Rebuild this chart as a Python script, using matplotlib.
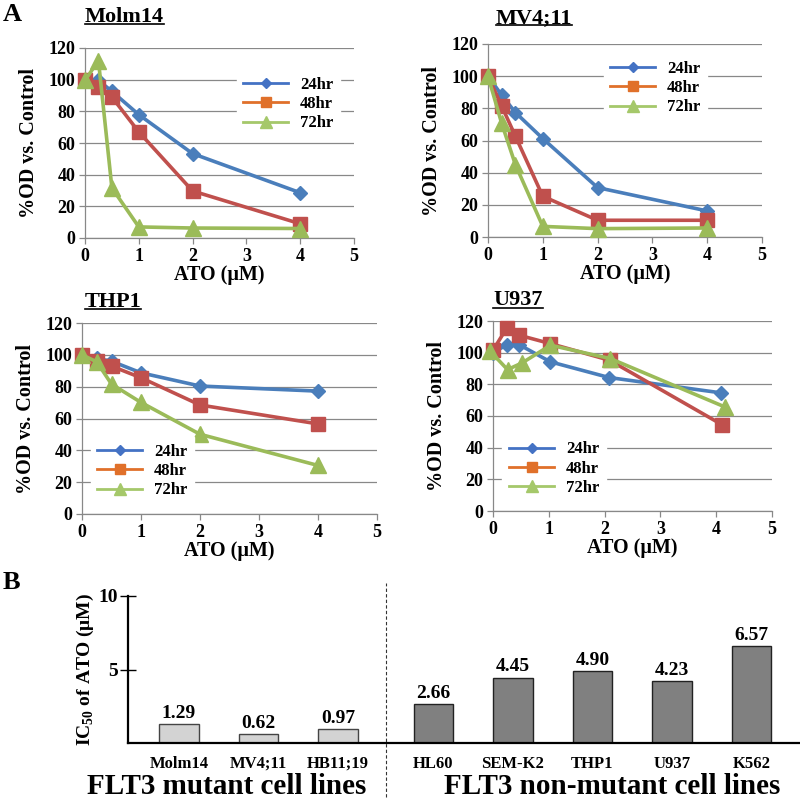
import numpy as np
import matplotlib
matplotlib.use("Agg")
import matplotlib.pyplot as plt
from matplotlib.lines import Line2D

plt.rcParams['font.family'] = ['Liberation Serif', 'DejaVu Serif']
plt.rcParams['font.weight'] = 'bold'
plt.rcParams['mathtext.fontset'] = 'custom'
plt.rcParams['mathtext.rm'] = 'Liberation Serif:bold'
plt.rcParams['mathtext.bf'] = 'Liberation Serif:bold'

# --- panel A data: dose (uM) vs %OD ---
dose = [0, 0.25, 0.5, 1, 2, 4]
labels_t = ['24hr', '48hr', '72hr']

molm14_24 = [100, 99.6, 92.6, 77.9, 53.3, 28.6]
molm14_48 = [100, 95.4, 89.0, 67.0, 29.7, 9.0]
molm14_72 = [99.6, 112, 31.6, 7.0, 6.3, 6.0]

mv411_24 = [100, 88.2, 77.4, 61.2, 30.7, 16.2]
mv411_48 = [100, 81.4, 62.7, 25.3, 10.4, 10.4]
mv411_72 = [100, 70.6, 45.0, 6.6, 5.2, 5.6]

thp1_24 = [100, 97.7, 96.0, 88.7, 80.4, 77.2]
thp1_48 = [100, 96.0, 92.9, 85.6, 68.5, 56.6]
thp1_72 = [100, 95.6, 81.6, 70.1, 50.1, 30.5]

# U937 points sit slightly off the nominal doses in the original
u937_x24 = [0, 0.25, 0.47, 1.03, 2.08, 4.09]
u937_24 = [100, 105, 105, 94.2, 84.3, 74.6]
u937_x48 = [0, 0.25, 0.47, 1.03, 2.09, 4.1]
u937_48 = [101.5, 115.8, 111, 105.7, 95.2, 54.6]
u937_x72 = [-0.05, 0.26, 0.52, 1.03, 2.1, 4.15]
u937_72 = [100.9, 89.3, 93.5, 104.7, 96.3, 65.8]

# --- panel B data: IC50 ---
cells_mut = ['Molm14', 'MV4;11', 'HB11;19']
ic50_mut = [1.29, 0.62, 0.97]
cells_non = ['HL60', 'SEM-K2', 'THP1', 'U937', 'K562']
ic50_non = [2.66, 4.45, 4.90, 4.23, 6.57]

W, H = 800, 801
fig = plt.figure(figsize=(8, 8.01), dpi=100)


def px_axes(l, r, t, b):
    return fig.add_axes([l / W, 1 - b / H, (r - l) / W, (b - t) / H])


line_cols = ['#4a7ebb', '#c0504d', '#9bbb59']
leg_cols = ['#4472c4', '#e0702a', '#a5c86a']
mk = ['D', 's', '^']
ms = [7, 10, 11]
grey = '#888888'

panels = [
    ('Molm14', (85, 354, 48, 238), [(dose, molm14_24), (dose, molm14_48), (dose, molm14_72)],
     (0.145, 1.137), (0.564, 0.705)),
    ('MV4;11', (488, 762, 44, 237), [(dose, mv411_24), (dose, mv411_48), (dose, mv411_72)],
     (0.168, 1.109), (0.422, 0.772)),
    ('THP1', (82, 377, 323, 514), [(dose, thp1_24), (dose, thp1_48), (dose, thp1_72)],
     (0.105, 1.084), (0.029, 0.225)),
    ('U937', (493, 772, 321, 511), [(u937_x24, u937_24), (u937_x48, u937_48), (u937_x72, u937_72)],
     (0.09, 1.084), (0.034, 0.222)),
]

titles = []
for name, box, series, tpos, lpos in panels:
    ax = px_axes(*box)
    for i, (xs, ys) in enumerate(series):
        ax.plot(xs, ys, color=line_cols[i], lw=2.6, marker=mk[i], ms=ms[i],
                markeredgecolor=line_cols[i], zorder=3, clip_on=False)
    ax.set_xlim(0, 5)
    ax.set_ylim(0, 120)
    ax.set_xticks(range(6))
    ax.set_yticks(range(0, 121, 20))
    ax.yaxis.grid(True, color=grey, lw=0.9)
    ax.set_axisbelow(True)
    for s in ['top', 'right']:
        ax.spines[s].set_visible(False)
    for s in ['left', 'bottom']:
        ax.spines[s].set_color(grey)
        ax.spines[s].set_linewidth(0.9)
    ax.tick_params(colors=grey, labelcolor='black', labelsize=13, length=4, width=0.9, pad=3)
    for lab in ax.get_xticklabels() + ax.get_yticklabels():
        lab.set_fontweight('bold')
    ax.set_xlabel('ATO (\u03bcM)', fontsize=14.5, fontweight='bold', labelpad=0)
    ax.set_ylabel('%OD vs. Control', fontsize=14.5, fontweight='bold', labelpad=7)
    handles = [Line2D([], [], color=leg_cols[i], lw=2, marker=mk[i], ms=ms[i] * 0.75,
                      markeredgecolor=leg_cols[i]) for i in range(3)]
    leg = ax.legend(handles, labels_t, loc='center left', bbox_to_anchor=lpos,
                    borderaxespad=0, borderpad=0.4, frameon=True, framealpha=1,
                    edgecolor='white', facecolor='white', fancybox=False,
                    handlelength=2.7, handletextpad=0.7, labelspacing=0.2,
                    prop={'size': 12, 'weight': 'bold'})
    leg.set_zorder(4)
    t = ax.text(tpos[0], tpos[1], name, transform=ax.transAxes, ha='center',
                va='baseline', fontsize=16, fontweight='bold')
    titles.append(t)

# --- panel B ---
axb = fig.add_axes([128 / W, 1 - 743 / H, (800 - 128) / W, (743 - 596) / H])
gap = 0.2
x_mut = np.arange(len(cells_mut))
x_non = np.arange(len(cells_non)) + len(cells_mut) + gap
axb.bar(x_mut, ic50_mut, width=0.5, color='#d3d3d3', edgecolor='#444444', lw=1)
axb.bar(x_non, ic50_non, width=0.5, color='#808080', edgecolor='#222222', lw=1)
for xs, vals in [(x_mut, ic50_mut), (x_non, ic50_non)]:
    for x, v in zip(xs, vals):
        axb.text(x, v + 0.15, f'{v:.2f}', ha='center', va='bottom', fontsize=14, fontweight='bold')
axb.set_xlim(-0.64, 7.81)
axb.set_ylim(0, 10)
axb.set_yticks([5, 10])
axb.set_xticks(list(x_mut) + list(x_non))
axb.set_xticklabels(cells_mut + cells_non)
for s in ['top', 'right']:
    axb.spines[s].set_visible(False)
for s in ['left', 'bottom']:
    axb.spines[s].set_linewidth(1.6)
axb.tick_params(axis='y', direction='inout', length=12, width=1, labelsize=14, pad=1)
axb.tick_params(axis='x', length=0, labelsize=12, pad=9)
for lab in axb.get_xticklabels() + axb.get_yticklabels():
    lab.set_fontweight('bold')
axb.set_ylabel('IC$_{\\mathbf{50}}$ of ATO (\u03bcM)', fontsize=14, fontweight='bold', labelpad=2)
sep = (x_mut[-1] + x_non[0]) / 2
axb.plot([sep, sep], [-3.7, 10.9], ls=(0, (3, 2)), lw=0.8, color='#333333', clip_on=False)

fig.text((74 + 379) / 2 / W, 1 - 794 / H, 'FLT3 mutant cell lines', ha='center', va='baseline',
         fontsize=21, fontweight='bold')
fig.text(612 / W, 1 - 794 / H, 'FLT3 non-mutant cell lines', ha='center', va='baseline',
         fontsize=21, fontweight='bold')

fig.text(3 / W, 1 - 21 / H, 'A', fontsize=19, fontweight='bold', va='baseline')
fig.text(3 / W, 1 - 589 / H, 'B', fontsize=19, fontweight='bold', va='baseline')

# underline the panel titles
fig.canvas.draw()
rend = fig.canvas.get_renderer()
for t in titles:
    bb = t.get_window_extent(rend)
    bl = t.get_transform().transform(t.get_position())[1]
    y = (bl - 2.5) / fig.bbox.height
    fig.add_artist(Line2D([bb.x0 / fig.bbox.width, bb.x1 / fig.bbox.width], [y, y],
                          color='black', lw=1.2))

fig.savefig('out.png', dpi=100)
